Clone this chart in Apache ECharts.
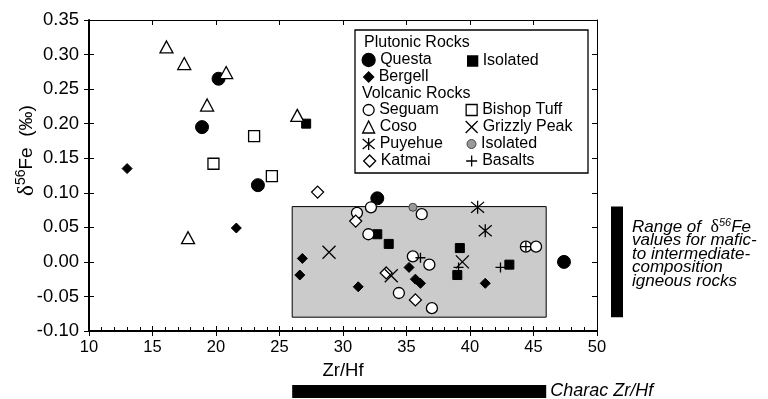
<!DOCTYPE html>
<html>
<head>
<meta charset="utf-8">
<script src="https://cdn.jsdelivr.net/npm/echarts@6/dist/echarts.min.js"></script>
<style>
  html, body { margin: 0; padding: 0; background: #fff; }
  #chart { width: 768px; height: 399px; }
</style>
</head>
<body>
<div id="chart"></div>
<script>
// δ56Fe (‰) versus Zr/Hf for plutonic and volcanic suites
const questa = [[18.9, 0.195], [20.2, 0.265], [23.3, 0.111], [32.7, 0.092], [47.4, 0.0]];
const bergell = [[13.0, 0.135], [21.6, 0.049], [26.8, 0.005], [26.6, -0.019], [31.2, -0.036],
                 [35.2, -0.008], [35.7, -0.025], [36.1, -0.031], [41.2, -0.031]];
const isolatedPlutonic = [[27.1, 0.200], [32.7, 0.040], [33.6, 0.026], [39.2, 0.020], [39.0, -0.019], [43.1, -0.004]];
const seguam = [[32.2, 0.079], [31.1, 0.071], [36.2, 0.069], [32.0, 0.040], [35.5, 0.008], [36.8, -0.004],
                [34.4, -0.045], [37.0, -0.067], [44.4, 0.022], [45.2, 0.022]];
const coso = [[16.1, 0.311], [17.5, 0.287], [20.8, 0.274], [19.3, 0.227], [26.4, 0.212], [17.8, 0.035]];
const puyehue = [[40.6, 0.079], [41.2, 0.045]];
const katmai = [[28.0, 0.101], [31.0, 0.059], [33.4, -0.016], [35.7, -0.055]];
const bishopTuff = [[19.8, 0.142], [23.0, 0.182], [24.4, 0.124]];
const grizzlyPeak = [[28.9, 0.014], [33.8, -0.020], [39.4, 0.0]];
const isolatedVolcanic = [[35.5, 0.079]];
const basalts = [[36.1, 0.006], [39.1, -0.008], [42.4, -0.008], [44.4, 0.022]];

// Typical ranges for mafic to intermediate igneous rocks
const zrHfRange = [26, 46];
const feRange = [-0.08, 0.08];

const xTicks = { min: 10, max: 50, interval: 5 };
const yTicks = { min: -0.10, max: 0.35, interval: 0.05 };

const FONT = '"Liberation Sans", Arial, sans-serif';
const SERIF = '"Liberation Serif", serif';
const BLACK = '#000';

const X_PATH = 'path://M0,0L12,12M12,0L0,12';
const STAR_PATH = 'path://M0,1L12,11M12,1L0,11M6,0L6,12';
const PLUS_PATH = 'path://M0,5L10,5M5,0L5,10';

const solid = (c) => ({ color: c, borderColor: BLACK, borderWidth: 1, opacity: 1 });
const hollow = { color: '#fff', borderColor: BLACK, borderWidth: 1.3, opacity: 1 };
const lines = { color: 'transparent', borderColor: BLACK, borderWidth: 1.3, opacity: 1 };

const seriesDefs = [
  { name: 'Questa', data: questa, symbol: 'circle', size: 13, style: solid(BLACK) },
  { name: 'Bergell', data: bergell, symbol: 'diamond', size: 10, style: solid(BLACK) },
  { name: 'Isolated (plutonic)', data: isolatedPlutonic, symbol: 'rect', size: 9, style: solid(BLACK) },
  { name: 'Seguam', data: seguam, symbol: 'circle', size: 11, style: hollow },
  { name: 'Coso', data: coso, symbol: 'triangle', size: [13, 12], style: hollow },
  { name: 'Puyehue', data: puyehue, symbol: STAR_PATH, size: 13, style: lines },
  { name: 'Katmai', data: katmai, symbol: 'diamond', size: 12, style: hollow },
  { name: 'Bishop Tuff', data: bishopTuff, symbol: 'rect', size: 11, style: hollow },
  { name: 'Grizzly Peak', data: grizzlyPeak, symbol: X_PATH, size: 13, style: lines },
  { name: 'Isolated (volcanic)', data: isolatedVolcanic, symbol: 'circle', size: 8,
    style: { color: '#999', borderColor: '#444', borderWidth: 1, opacity: 1 } },
  { name: 'Basalts', data: basalts, symbol: PLUS_PATH, size: 10, style: lines }
];

// Legend rows: [series name, icon centre x, icon centre y, icon size]
const legendRows = [
  ['Questa', 368, 60, 13], ['Bergell', 368, 77, 10],
  ['Seguam', 368, 110, 11], ['Coso', 368, 127, 12], ['Puyehue', 368, 144, 12], ['Katmai', 369, 161, 12],
  ['Isolated (plutonic)', 472, 61, 10], ['Bishop Tuff', 471, 110, 11], ['Grizzly Peak', 471, 127, 12],
  ['Isolated (volcanic)', 471, 144, 9], ['Basalts', 471, 161, 11]
];

const chart = echarts.init(document.getElementById('chart'), null, { renderer: 'canvas' });

const GRID = { left: 89, top: 20, right: 171, bottom: 68, containLabel: false, outerBoundsMode: 'none' };

const baseX = { type: 'value', ...xTicks, splitLine: { show: false }, gridIndex: 0 };
const baseY = { type: 'value', ...yTicks, splitLine: { show: false }, gridIndex: 0 };

const option = {
  animation: false,
  textStyle: { fontFamily: FONT, color: BLACK },
  grid: { ...GRID },
  xAxis: [
    {
      ...baseX, position: 'bottom',
      axisLine: { onZero: false, lineStyle: { color: BLACK, width: 2 } },
      axisTick: { show: true, inside: false, length: 5, lineStyle: { color: BLACK, width: 1 } },
      axisLabel: { fontSize: 16.5, color: BLACK, margin: 8, fontFamily: FONT },
      name: 'Zr/Hf', nameLocation: 'middle', nameGap: 30,
      nameTextStyle: { fontSize: 18.5, color: BLACK, fontFamily: FONT }
    },
    {
      ...baseX, position: 'bottom',
      axisLine: { show: false, onZero: false },
      axisTick: { show: true, inside: true, length: 5, lineStyle: { color: BLACK, width: 1 } },
      minorTick: { show: true, splitNumber: 5, length: 4, lineStyle: { color: BLACK, width: 1 } },
      axisLabel: { show: false }
    },
    {
      ...baseX, position: 'top',
      axisLine: { onZero: false, lineStyle: { color: BLACK, width: 1 } },
      axisTick: { show: true, inside: true, length: 5, lineStyle: { color: BLACK, width: 1 } },
      axisLabel: { show: false }
    }
  ],
  yAxis: [
    {
      ...baseY, position: 'left',
      axisLine: { onZero: false, lineStyle: { color: BLACK, width: 2 } },
      axisTick: { show: true, inside: false, length: 5, lineStyle: { color: BLACK, width: 1 } },
      axisLabel: { fontSize: 18.5, color: BLACK, margin: 10, fontFamily: FONT, formatter: (v) => v.toFixed(2) },
      name: '{d|δ}{s|56}{t|Fe  (‰)}', nameLocation: 'middle', nameGap: 50, nameMoveOverlap: false,
      nameTextStyle: {
        padding: [0, 0, 0, 50],
        rich: {
          d: { fontSize: 23, fontFamily: SERIF, color: BLACK },
          s: { fontSize: 14, fontFamily: FONT, color: BLACK, padding: [0, 0, 11, 0] },
          t: { fontSize: 19, fontFamily: FONT, color: BLACK }
        }
      }
    },
    {
      ...baseY, position: 'left',
      axisLine: { show: false, onZero: false },
      axisTick: { show: true, inside: true, length: 5, lineStyle: { color: BLACK, width: 1 } },
      axisLabel: { show: false }
    },
    {
      ...baseY, position: 'right',
      axisLine: { onZero: false, lineStyle: { color: BLACK, width: 1 } },
      axisTick: { show: true, inside: true, length: 5, lineStyle: { color: BLACK, width: 1 } },
      axisLabel: { show: false }
    }
  ],
  legend: legendRows.map(([name, cx, cy, size]) => ({
    data: [name],
    left: cx - size / 2,
    top: cy - 8,
    padding: 0,
    itemWidth: size,
    itemHeight: size,
    itemStyle: { borderWidth: name.startsWith('Isolated (v') ? 1 : 1.3 },
    selectedMode: false,
    textStyle: { fontSize: 16, lineHeight: 16, color: BLACK, fontFamily: FONT },
    formatter: (n) => n.replace(/ \(.*\)$/, '')
  })),
  series: [
    {
      name: 'range box', type: 'scatter', data: [], silent: true,
      markArea: {
        silent: true, z: 1,
        itemStyle: { color: '#cbcbcb', borderColor: BLACK, borderWidth: 1 },
        data: [[{ coord: [zrHfRange[0], feRange[1]] }, { coord: [zrHfRange[1], feRange[0]] }]]
      }
    },
    ...seriesDefs.map((d) => ({
      name: d.name, type: 'scatter', data: d.data, symbol: d.symbol, symbolSize: d.size,
      itemStyle: d.style, z: 3, emphasis: { disabled: true }
    }))
  ]
};

chart.setOption(option);

// Annotation bars placed from the axis scales
const xLo = chart.convertToPixel({ xAxisIndex: 0 }, zrHfRange[0]);
const xHi = chart.convertToPixel({ xAxisIndex: 0 }, zrHfRange[1]);
const yTop = chart.convertToPixel({ yAxisIndex: 0 }, feRange[1]);
const yBot = chart.convertToPixel({ yAxisIndex: 0 }, feRange[0]);

const ITALIC = { fontSize: 17, fontStyle: 'italic', fontFamily: FONT, fill: BLACK };
const LH = 13.6;

chart.setOption({
  graphic: [
    {
      type: 'rect', shape: { x: 355, y: 30, width: 233, height: 143 },
      style: { fill: '#fff', stroke: BLACK, lineWidth: 1.3 }, z: 2
    },
    {
      type: 'text', x: 364, y: 43, z: 4,
      style: { text: 'Plutonic Rocks', fontSize: 16, fontFamily: FONT, fill: BLACK, verticalAlign: 'middle' }
    },
    {
      type: 'text', x: 362, y: 94, z: 4,
      style: { text: 'Volcanic Rocks', fontSize: 16, fontFamily: FONT, fill: BLACK, verticalAlign: 'middle' }
    },
    {
      type: 'rect', shape: { x: 611, y: yTop, width: 12, height: yBot - yTop },
      style: { fill: BLACK }
    },
    {
      type: 'rect', shape: { x: xLo, y: 385, width: xHi - xLo, height: 13 },
      style: { fill: BLACK }
    },
    {
      type: 'text', x: xHi + 4, y: 391,
      style: { text: 'Charac Zr/Hf', ...ITALIC, fontSize: 18, verticalAlign: 'middle' }
    },
    {
      type: 'text', x: 632, y: 220,
      style: {
        text: '{a|Range of  }{d|δ}{s|56}{a|Fe}\nvalues for mafic-\nto intermediate-\ncomposition\nigneous rocks',
        ...ITALIC, lineHeight: LH,
        rich: {
          a: { ...ITALIC, lineHeight: LH },
          d: { fontSize: 18, fontFamily: SERIF, fill: BLACK, lineHeight: LH },
          s: { fontSize: 11, fontStyle: 'italic', fontFamily: FONT, fill: BLACK, padding: [0, 0, 8, 0], lineHeight: LH }
        }
      }
    }
  ]
});
</script>
</body>
</html>
